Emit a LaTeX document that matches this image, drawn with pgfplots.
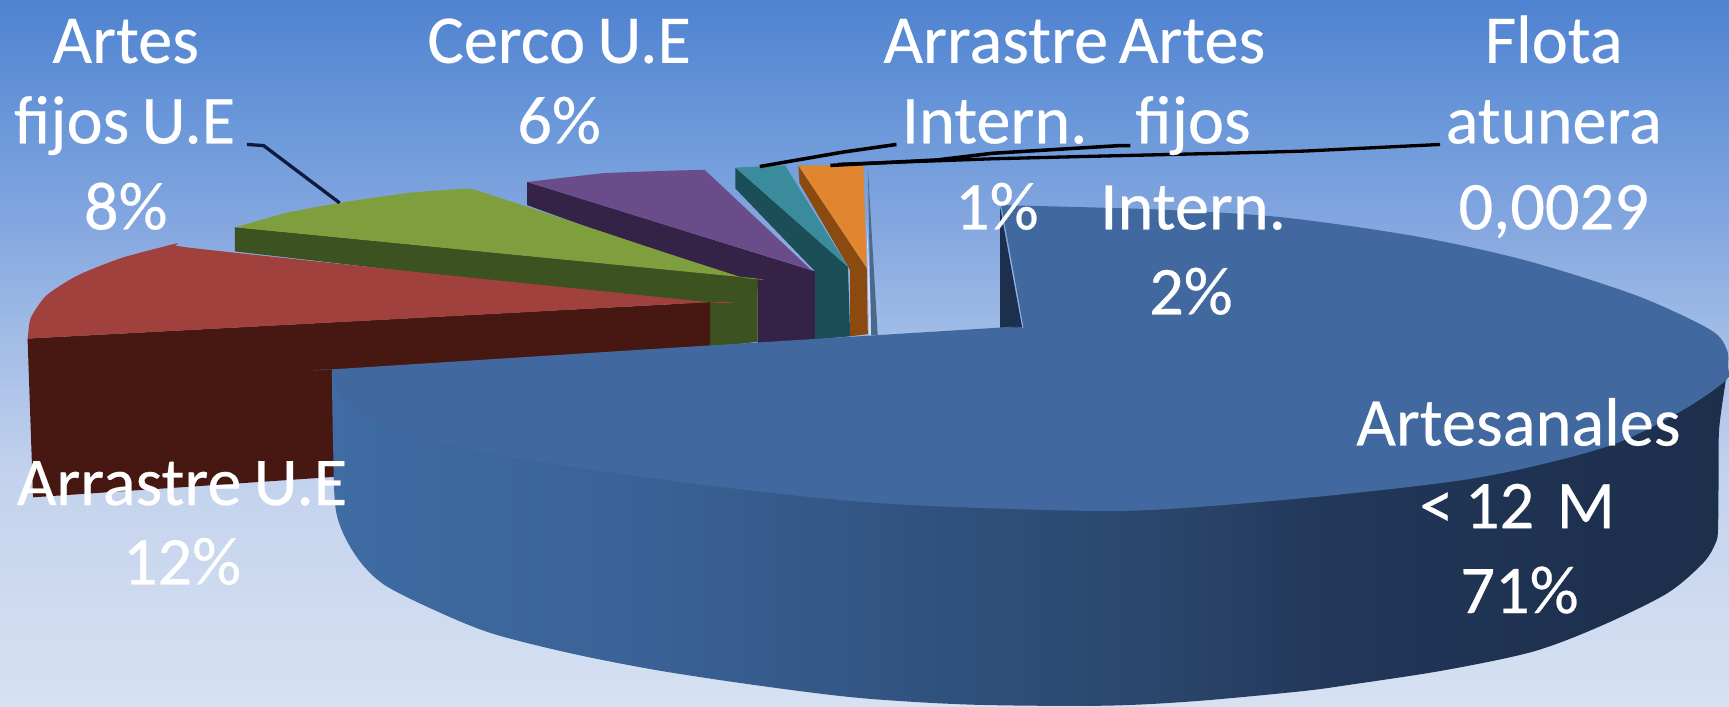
\documentclass[border=0pt]{standalone}
\usepackage{fontspec}
\setmainfont{Carlito}
\newfontfamily\labfont{Carlito}[FakeBold=0.35,WordSpace=0.8]
\usepackage{pgfplots}
\pgfplotsset{compat=1.18}

\definecolor{bgA}{HTML}{D6E1F2}
\definecolor{bgB}{HTML}{C3D2ED}
\definecolor{bgC}{HTML}{A0BBE6}
\definecolor{bgD}{HTML}{83A6DF}
\definecolor{bgE}{HTML}{6F9BDB}
\definecolor{bgF}{HTML}{4F82D0}
\definecolor{rimA}{HTML}{3E6CA3}
\definecolor{rimB}{HTML}{3A6296}
\definecolor{rimC}{HTML}{30527F}
\definecolor{rimD}{HTML}{2A4469}
\definecolor{rimE}{HTML}{22385A}
\definecolor{rimF}{HTML}{1E3150}
\definecolor{rimG}{HTML}{1C2E4A}

\pgfdeclareverticalshading{bgfade}{100bp}{
  color(0bp)=(bgA);
  color(25bp)=(bgA);
  color(41.5bp)=(bgB);
  color(51.6bp)=(bgC);
  color(59.4bp)=(bgD);
  color(64.9bp)=(bgE);
  color(75bp)=(bgF);
  color(100bp)=(bgF)}
\pgfdeclarehorizontalshading{rimfade}{100bp}{
  color(0bp)=(rimA);
  color(25bp)=(rimA);
  color(36bp)=(rimB);
  color(46bp)=(rimC);
  color(55bp)=(rimD);
  color(60bp)=(rimE);
  color(68bp)=(rimF);
  color(75bp)=(rimG);
  color(100bp)=(rimG)}

\definecolor{redtop}{HTML}{A0413D}
\definecolor{redside}{HTML}{471811}
\definecolor{greentop}{HTML}{7F9F3E}
\definecolor{greenside}{HTML}{3C5220}
\definecolor{purpletop}{HTML}{6A4C8B}
\definecolor{purpleside}{HTML}{342347}
\definecolor{tealtop}{HTML}{3A8C9C}
\definecolor{tealside}{HTML}{1C4E57}
\definecolor{orangetop}{HTML}{E08530}
\definecolor{orangeside}{HTML}{8A4A10}
\definecolor{bluetop}{HTML}{41699F}
\definecolor{bluedark}{HTML}{1C2F4C}
\definecolor{thinslice}{HTML}{4A6A8C}
\definecolor{leader}{HTML}{0E1B3C}

\newcommand{\lab}[3]{\node[anchor=base,inner sep=0pt,text=white,font=\labfont\fontsize{62}{62}\selectfont] at (axis cs:#1,#2) {#3};}

\begin{document}
\begin{tikzpicture}
\begin{axis}[
    hide axis,
    scale only axis,
    width=1568pt,
    height=641pt,
    xmin=0, xmax=1568,
    ymin=0, ymax=641,
    y dir=reverse,
]
% background
\addplot[draw=none,shade,shading=bgfade] coordinates {(0,0)(1568,0)(1568,641)(0,641)};

% thin slice (flota atunera)
\addplot[draw=none,fill=white!85!blue] coordinates {(786,200)(791,304)(788,304)};
\addplot[draw=none,fill=thinslice] coordinates {(787,152)(796,304)(790,304)};

% orange
\addplot[draw=none,fill=orangeside] coordinates {(724,150)(786,243)(787,303)(771,305)(771,245)(725,166)};
\addplot[draw=none,fill=orangetop] coordinates {(724,150)(783,150)(786,243)};
% teal
\addplot[draw=none,fill=tealside] coordinates {(667,152)(769,242)(771,305)(739,308)(739,246)(667,171)};
\addplot[draw=none,fill=tealtop] coordinates {(667,152)(712,150)(769,242)};
% purple
\addplot[draw=none,fill=purpleside] coordinates {(478,165)(739,246)(739,308)(687,311)(687,262)(478,186)};
\addplot[draw=none,fill=purpletop] coordinates {(478,165)(547,157)(600,155)(639,154)(736,245)};
% green
\addplot[draw=none,fill=greenside] coordinates {(213,206)(684,252)(687,254)(687,310)(644,315)(644,278)(213,228)};
\addplot[draw=none,fill=greentop,smooth,tension=0.35] coordinates {(214,206)(215,205.7)(260,193)(308,184)(370,175)(423,171)(425,171.5)(440,175)(600,228)(671,251)(672,251.2)(214,206.2)};
% red
\addplot[draw=none,fill=redside] coordinates {(25,307)(644,274)(644,320)(301,340)(310,432)(30,451)};
\addplot[draw=none,fill=redtop,smooth,tension=0.4] coordinates {(25,307)(25.5,303)(28,288)(42,268)(70,250)(110,234)(159,221)(161,221.3)(175,225)(400,249)(643,274)(644,274)(400,287.2)(26,307)};

% main slice: rim, left part curved, right part with its straight edge
\addplot[draw=none,shade,shading=rimfade,smooth,tension=0.5] coordinates {
  (301,335)(302,400)(305,465)(322,503)(348,530)(400,556)(448,575)(520,593)(597,608)
  (690,622)(780,633)(880,639)(1000,640)(1082,636)(1179,627)(1224,621)(1309,608)(1390,591)
  (1451,568)(1512,538)(1545,510)(1556,492)(1558,480)(1558.5,440)(1559,390)(1565,345)(1565,340)(1400,340)(1000,340)(301,335)};
% main slice: cut edge
\addplot[draw=none,fill=bluedark] coordinates {(907,188)(927,297)(907,298)};
% main slice: top
\addplot[draw=none,fill=bluetop,smooth,tension=0.5] coordinates {
  (908,186)(909,186)(1050,190)(1162,197)(1282,214)(1383,236)(1484,268)(1551,299)(1566,317)(1567,332)(1565,345)
  (1526,372)(1466,402)(1390,423)(1315,437)(1179,452)(1031,463)(900,461)(780,455)
  (640,440)(497,420)(400,402)(340,382)(310,362)(302,340)(301,335)(302,334.9)(600,316)(905,297.2)(907,297)(927,297)(928,297)(918,240)(908.5,189)(908,186)};

% leader lines
\addplot[leader,line width=3pt] coordinates {(224,131)(239,132)(308,184)};
\addplot[black,line width=3.2pt] coordinates {(689,151)(764,138)(813,131)};
\addplot[black,line width=3.2pt] coordinates {(753,150)(850,145)(900,139)(1016,132)(1025,132)};
\addplot[black,line width=3pt] coordinates {(760,149)(900,144)(979,142)(1129,138.5)(1183,137)(1306,131)};

% labels
\lab{114}{57}{Artes}
\lab{113}{130}{fijos U.E}
\lab{114}{208}{8\%}
\lab{507}{57}{Cerco U.E}
\lab{507}{130}{6\%}
\lab{903}{57}{Arrastre}
\lab{902}{130}{Intern.}
\lab{904}{208}{1\%}
\lab{1081}{57}{Artes}
\lab{1082}{130}{fijos}
\lab{1082}{208}{Intern.}
\lab{1080}{285}{2\%}
\lab{1409}{57}{Flota}
\lab{1409}{130}{atunera}
\lab{1409}{208}{0,0029}
\lab{1377}{404}{Artesanales}
\lab{1376}{479}{<\,12\kern 9pt{} M}
\lab{1378}{556}{71\%}
\lab{165}{458}{Arrastre U.E}
\lab{165}{530}{12\%}
\end{axis}
\end{tikzpicture}
\end{document}
